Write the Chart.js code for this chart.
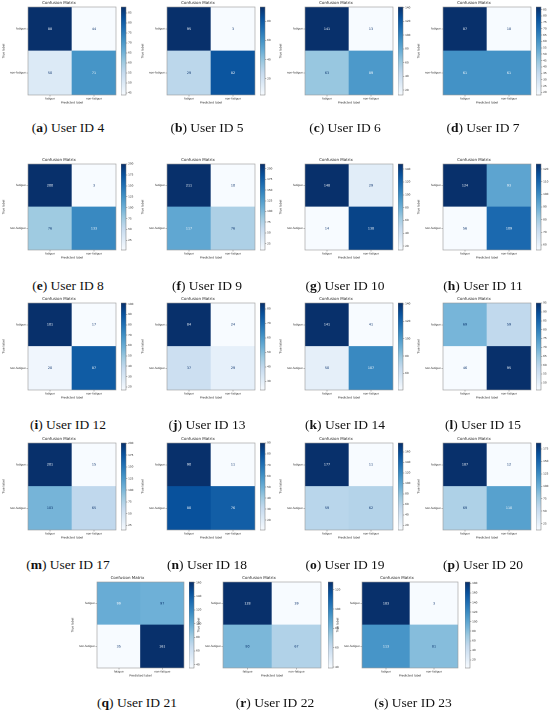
<!DOCTYPE html>
<html><head><meta charset="utf-8">
<script src="https://cdn.jsdelivr.net/npm/chart.js@4.4.0/dist/chart.umd.min.js"></script>
<style>
html,body{margin:0;padding:0;background:#fff;width:550px;height:713px;overflow:hidden;}
#fig{position:relative;width:550px;height:713px;}
#fig canvas{position:absolute;}
.cap{position:absolute;font-family:"Liberation Serif","Times New Roman",serif;font-size:13.5px;color:#111;white-space:nowrap;transform:translate(-50%,-50%);line-height:1;}
</style></head><body><div id="fig"></div>
<script>
// ---- data ----
const classLabels = ['fatigue', 'non-fatigue'];
const panelLetters = ['a','b','c','d','e','f','g','h','i','j','k','l','m','n','o','p','q','r','s'];
const userIds = [4, 5, 6, 7, 8, 9, 10, 11, 12, 13, 14, 15, 17, 18, 19, 20, 21, 22, 23];
// rows = true label, columns = predicted label
const fatiguePredFatigue = [88, 95, 141, 87, 200, 211, 148, 124, 101, 84, 141, 69, 201, 90, 177, 187, 99, 128, 183];
const fatiguePredNon     = [44,  3,  13, 18,   3,  10,  29,  93,  17, 24,  41, 59,  15, 11,  11,  12, 97,  39,   3];
const nonPredFatigue     = [50, 29,  63, 61,  76, 117,  14,  56,  20, 37,  50, 46, 103, 80,  59,  69, 35,  80, 113];
const nonPredNon         = [71, 82,  89, 61, 133,  76, 138, 109,  87, 29, 107, 95,  65, 76,  62, 110, 161, 67,  81];
const colorbarSteps      = [ 5, 20,  20,  5,  25,  25,  20,  10,  10, 10,  20,  5,  25, 10,  20,  25, 20,  20,  20];

// ---- layout ----
const gridLefts = [28, 167, 305, 443];
const rowTops = [7, 164, 303, 443, 582];
const rowHeights = [88, 86, 87, 87, 86];
const capXs = [68, 207, 345, 483];
const capYs = [128, 286, 425, 565, 703];
const lastLefts = [97, 223, 362], lastWidths = [87, 98, 96], lastCapXs = [137, 275, 413], lastGaps = [5, 7, 7];

function panelBox(k) {
  if (k < 16) {
    const r = Math.floor(k / 4), c = k % 4;
    return {x: gridLefts[c], y: rowTops[r], w: 88, h: rowHeights[r], cx: capXs[c], cy: capYs[r], gap: 5};
  }
  const j = k - 16;
  return {x: lastLefts[j], y: rowTops[4], w: lastWidths[j], h: rowHeights[4], cx: lastCapXs[j], cy: capYs[4], gap: lastGaps[j]};
}

const bluesStops = ['#f7fbff','#deebf7','#c6dbef','#9ecae1','#6baed6','#4292c6','#2171b5','#08519c','#08306b'];
function hexRgb(h){return [1,3,5].map(i=>parseInt(h.substr(i,2),16));}
const bluesRgb = bluesStops.map(hexRgb);
function blues(t){
  t = Math.max(0, Math.min(1, t));
  const p = t * 8, i = Math.min(7, Math.floor(p)), f = p - i;
  const a = bluesRgb[i], b = bluesRgb[i+1];
  const c = a.map((v, n) => Math.round(v + (b[n]-v)*f));
  return `rgb(${c[0]},${c[1]},${c[2]})`;
}

const framePlugin = {
  id: 'frame',
  afterDraw(chart, args, opts) {
    const {ctx, chartArea: a} = chart;
    ctx.save();
    ctx.strokeStyle = opts.color || '#888';
    ctx.lineWidth = opts.width || 0.6;
    ctx.strokeRect(a.left, a.top, a.right - a.left, a.bottom - a.top);
    ctx.restore();
  }
};

const cellTextPlugin = {
  id: 'cellText',
  afterDatasetsDraw(chart, args, opts) {
    const {ctx} = chart;
    ctx.save();
    ctx.font = `${opts.size}px "DejaVu Sans"`;
    ctx.textAlign = 'center';
    ctx.textBaseline = 'middle';
    chart.data.datasets.forEach((ds, i) => {
      chart.getDatasetMeta(i).data.forEach((el, j) => {
        const v = ds.values[j];
        const p = el.getCenterPoint();
        ctx.fillStyle = v >= opts.thresh ? bluesStops[0] : bluesStops[8];
        ctx.fillText(String(v), p.x, p.y);
      });
    });
    ctx.restore();
  }
};

const fig = document.getElementById('fig');
const DPR = 2;
const FONT = '"DejaVu Sans"';

function addCanvas(left, top, w, h) {
  const c = document.createElement('canvas');
  c.style.left = left + 'px'; c.style.top = top + 'px';
  c.style.width = w + 'px'; c.style.height = h + 'px';
  c.width = w; c.height = h;
  fig.appendChild(c);
  return c;
}

function makePanel(k) {
  const box = panelBox(k);
  const matrix = [
    [fatiguePredFatigue[k], fatiguePredNon[k]],
    [nonPredFatigue[k], nonPredNon[k]]
  ];
  const flat = matrix.flat();
  const vmin = Math.min(...flat), vmax = Math.max(...flat);
  const norm = v => (v - vmin) / (vmax - vmin);
  const L = 26, T = 7, B = 9;

  // --- matrix chart ---
  const mc = addCanvas(box.x - L, box.y - T, box.w + 2 * L, box.h + T + B);
  const rowsBottomUp = matrix.map((row, r) => ({row, r})).reverse();
  new Chart(mc, {
    type: 'bar',
    data: {
      labels: classLabels,
      datasets: rowsBottomUp.map(({row, r}) => ({
        label: classLabels[r],
        data: classLabels.map(() => 1),
        values: row,
        backgroundColor: row.map(v => blues(norm(v))),
        borderWidth: 0,
        barPercentage: 1,
        categoryPercentage: 1
      }))
    },
    options: {
      responsive: false, animation: false, devicePixelRatio: DPR,
      layout: {padding: {left: 0, right: L, top: 0, bottom: 0}},
      plugins: {
        legend: {display: false}, tooltip: {enabled: false},
        title: {display: true, text: 'Confusion Matrix', color: '#222',
          font: {family: FONT, size: 4, lineHeight: 1, weight: 'normal'}, padding: {top: 1, bottom: 2}},
        frame: {color: '#9a9a9a', width: 0.6},
        cellText: {size: 3.3, thresh: (vmin + vmax) / 2}
      },
      scales: {
        x: {
          type: 'category', stacked: true, offset: true,
          grid: {display: true, drawOnChartArea: false, offset: false, tickLength: 1.5, color: '#444', lineWidth: 0.4},
          border: {display: false},
          ticks: {font: {family: FONT, size: 2.8}, color: '#222', padding: 0.8, maxRotation: 0, autoSkip: false},
          title: {display: true, text: 'Predicted label', font: {family: FONT, size: 3, lineHeight: 1}, color: '#222', padding: {top: 0, bottom: 0}},
          afterFit(s) { s.height = B; s.paddingLeft = 0; s.paddingRight = 0; }
        },
        y: {
          type: 'linear', stacked: true, min: 0, max: classLabels.length,
          grid: {display: true, drawOnChartArea: false, tickLength: 1.5, color: '#444', lineWidth: 0.4},
          border: {display: false},
          afterBuildTicks(s) { s.ticks = classLabels.map((_, i) => ({value: i + 0.5})); },
          ticks: {font: {family: FONT, size: 2.8}, color: '#222', padding: 0.6,
            callback: v => classLabels[classLabels.length - 1 - Math.floor(v)]},
          title: {display: true, text: 'True label', font: {family: FONT, size: 3, lineHeight: 1}, color: '#222', padding: {top: 0, bottom: 0}},
          afterFit(s) { s.width = L; s.paddingTop = 0; s.paddingBottom = 0; }
        }
      }
    },
    plugins: [framePlugin, cellTextPlugin]
  });

  // --- colorbar chart ---
  const cbW = 5, R = 16, pad = 4;
  const cx = box.x + box.w + box.gap;
  const cc = addCanvas(cx, box.y - pad, cbW + R, box.h + 2 * pad);
  const step = colorbarSteps[k];
  new Chart(cc, {
    type: 'bar',
    data: {
      labels: ['colorbar'],
      datasets: [{
        data: [[vmin, vmax]],
        borderWidth: 0, barPercentage: 1, categoryPercentage: 1,
        backgroundColor(ctx) {
          const ch = ctx.chart;
          if (!ch.chartArea) return bluesStops[4];
          const ys = ch.scales.y;
          const g = ch.ctx.createLinearGradient(0, ys.getPixelForValue(vmin), 0, ys.getPixelForValue(vmax));
          bluesStops.forEach((c, i) => g.addColorStop(i / 8, c));
          return g;
        }
      }]
    },
    options: {
      responsive: false, animation: false, devicePixelRatio: DPR,
      layout: {padding: {left: 0, right: 0, top: pad, bottom: pad}},
      plugins: {legend: {display: false}, tooltip: {enabled: false}, frame: {color: '#777', width: 0.5}},
      scales: {
        x: {display: false, offset: true},
        y: {
          position: 'right', min: vmin, max: vmax,
          grid: {display: true, drawOnChartArea: false, tickLength: 1.3, color: '#444', lineWidth: 0.4},
          border: {display: false},
          afterBuildTicks(s) {
            const t = [];
            for (let v = Math.ceil(vmin / step) * step; v <= vmax + 1e-9; v += step) t.push({value: v});
            s.ticks = t;
          },
          ticks: {font: {family: FONT, size: 2.8}, color: '#222', padding: 0.8},
          afterFit(s) { s.width = R; s.paddingTop = 0; s.paddingBottom = 0; }
        }
      }
    },
    plugins: [framePlugin]
  });

  // --- caption ---
  const cap = document.createElement('div');
  cap.className = 'cap';
  cap.style.left = box.cx + 'px';
  cap.style.top = box.cy + 'px';
  cap.innerHTML = `(<b>${panelLetters[k]}</b>) User ID ${userIds[k]}`;
  fig.appendChild(cap);
}

userIds.forEach((_, k) => makePanel(k));
</script>
</body></html>
